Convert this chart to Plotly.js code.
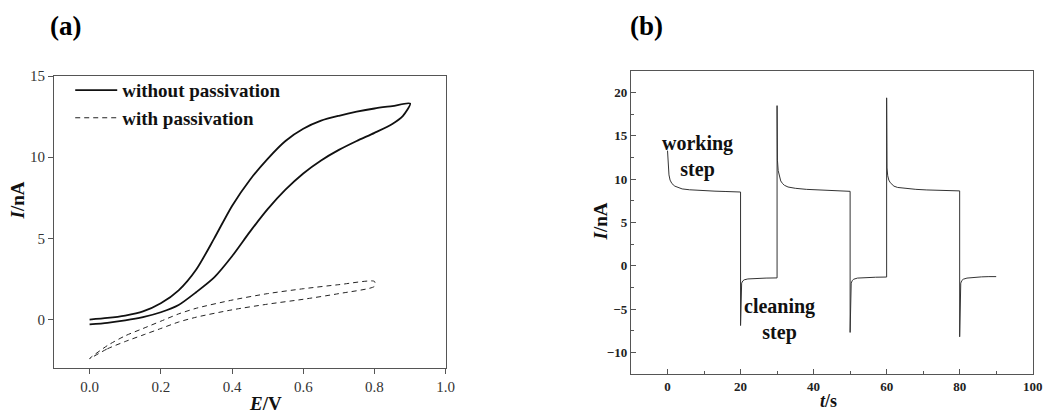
<!DOCTYPE html>
<html><head><meta charset="utf-8">
<script src="https://cdn.plot.ly/plotly-3.0.1.min.js"></script>
<style>html,body{margin:0;padding:0;background:#fff;}#chart{width:1048px;height:414px;}</style>
</head><body><div id="chart"></div>
<script>
// Panel (a): cyclic voltammograms (potential E / V, current I / nA)
var cvSolidE = [0,0.05,0.1,0.15,0.2,0.25,0.3,0.35,0.4,0.45,0.5,0.55,0.6,0.65,0.7,0.75,0.8,0.85,0.88,0.9,
                0.85,0.8,0.75,0.7,0.65,0.6,0.55,0.5,0.45,0.4,0.35,0.3,0.25,0.2,0.15,0.1,0.05,0];
var cvSolidI = [-0.3,-0.2,-0.05,0.15,0.45,0.9,1.7,2.6,3.9,5.4,6.8,8.0,9.0,9.8,10.45,11.0,11.5,12.05,12.55,13.3,
                13.15,13.0,12.8,12.55,12.25,11.75,11.0,9.9,8.6,7.0,5.0,3.1,1.8,1.0,0.5,0.25,0.1,0.0];
var cvDashE = [0,0.05,0.1,0.15,0.2,0.25,0.3,0.4,0.5,0.6,0.7,0.8,
               0.8,0.7,0.6,0.5,0.4,0.3,0.25,0.2,0.15,0.1,0.05,0];
var cvDashI = [-2.4,-1.8,-1.35,-0.95,-0.55,-0.15,0.15,0.6,0.95,1.25,1.6,2.05,
               2.35,2.15,1.9,1.6,1.2,0.7,0.35,-0.1,-0.55,-1.0,-1.6,-2.4];
var seriesNames = ['without passivation','with passivation'];

// Panel (b): chronoamperometry (time t / s, current I / nA)
var caTime = [0,0.2,0.4,0.7,1.2,2,3,4,6,8,10,13,16,19,20,
              20,20.1,20.3,20.6,21,22,24,27,30,
              30,30.1,30.3,30.6,31,31.5,32,33,35,38,41,44,47,50,
              50,50.1,50.3,50.6,51,52,54,57,60,
              60,60.1,60.3,60.6,61,61.5,62,63,65,68,71,74,77,80,
              80,80.1,80.3,80.6,81,82,84,86,88,90];
var caCurrent = [13.3,11.6,10.5,9.9,9.5,9.2,9.0,8.88,8.78,8.72,8.66,8.62,8.58,8.55,8.52,
                 -6.9,-2.6,-2.0,-1.75,-1.62,-1.52,-1.45,-1.42,-1.4,
                 18.5,12.2,11.0,10.3,9.8,9.5,9.3,9.1,8.95,8.83,8.76,8.7,8.65,8.6,
                 -7.7,-2.6,-2.0,-1.7,-1.55,-1.42,-1.35,-1.32,-1.3,
                 19.4,11.3,10.4,9.9,9.6,9.35,9.2,9.05,8.93,8.83,8.76,8.71,8.67,8.65,
                 -8.2,-2.6,-2.0,-1.7,-1.55,-1.42,-1.32,-1.28,-1.25,-1.25];

var serif = 'Liberation Serif, Times New Roman, serif';

var traces = [
  {x: cvSolidE, y: cvSolidI, type: 'scatter', mode: 'lines', name: seriesNames[0],
   line: {color: '#111', width: 1.8, shape: 'spline', smoothing: 0.7}, xaxis: 'x', yaxis: 'y'},
  {x: cvDashE, y: cvDashI, type: 'scatter', mode: 'lines', name: seriesNames[1],
   line: {color: '#222', width: 1, dash: '5px,4px', shape: 'spline', smoothing: 0.7}, xaxis: 'x', yaxis: 'y'},
  {x: caTime, y: caCurrent, type: 'scatter', mode: 'lines', showlegend: false,
   line: {color: '#333', width: 1}, xaxis: 'x2', yaxis: 'y2'}
];

var axA = {showline: true, mirror: true, linecolor: '#555', linewidth: 1, showgrid: false, zeroline: false,
           ticks: 'outside', ticklen: 5, tickcolor: '#555',
           tickfont: {family: serif, size: 15, color: '#333'}};
var axB = {showline: true, mirror: true, linecolor: '#555', linewidth: 1.2, showgrid: false, zeroline: false,
           ticks: 'inside', ticklen: 5, tickcolor: '#555',
           tickfont: {family: serif, size: 13, color: '#222', weight: 'bold'}};

var layout = {
  width: 1048, height: 414,
  margin: {l: 0, r: 0, t: 0, b: 0},
  paper_bgcolor: '#fff', plot_bgcolor: '#fff',
  showlegend: true,
  legend: {x: 0.067, y: 0.828, xanchor: 'left', yanchor: 'top', bgcolor: 'rgba(0,0,0,0)',
           font: {family: serif, size: 19, color: '#111', weight: 'bold'}, itemwidth: 42},
  xaxis: Object.assign({}, axA, {domain: [0.0515, 0.4253], range: [-0.1, 1.0], tick0: 0, dtick: 0.2,
                                 tickformat: '.1f', anchor: 'y'}),
  yaxis: Object.assign({}, axA, {domain: [0.1104, 0.8164], range: [-3, 15], tick0: 0, dtick: 5, anchor: 'x'}),
  xaxis2: Object.assign({}, axB, {domain: [0.6021, 0.9854], range: [-10, 100], tick0: 0, dtick: 20, anchor: 'y2',
                                  minor: {dtick: 10, ticks: 'inside', ticklen: 3, tickcolor: '#555'}}),
  yaxis2: Object.assign({}, axB, {domain: [0.0966, 0.8285], range: [-12.5, 22.5], tick0: 0, dtick: 5, anchor: 'x2',
                                  minor: {dtick: 2.5, ticks: 'inside', ticklen: 3, tickcolor: '#555'}}),
  annotations: [
    {text: '<b>(a)</b>', xref: 'paper', yref: 'paper', x: 65/1048, y: 1-26/414, xanchor: 'center', yanchor: 'middle',
     showarrow: false, font: {family: serif, size: 27, color: '#000'}},
    {text: '<b>(b)</b>', xref: 'paper', yref: 'paper', x: 646/1048, y: 1-26/414, xanchor: 'center', yanchor: 'middle',
     showarrow: false, font: {family: serif, size: 27, color: '#000'}},
    {text: '<b><i>E</i>/V</b>', xref: 'paper', yref: 'paper', x: 265/1048, y: 1-403/414, xanchor: 'center', yanchor: 'middle',
     showarrow: false, font: {family: serif, size: 19, color: '#111'}},
    {text: '<b><i>I</i>/nA</b>', xref: 'paper', yref: 'paper', x: 17.5/1048, y: 1-201/414, xanchor: 'center', yanchor: 'middle',
     textangle: -90, showarrow: false, font: {family: serif, size: 19, color: '#111'}},
    {text: '<b><i>I</i>/nA</b>', xref: 'paper', yref: 'paper', x: 599.5/1048, y: 1-222/414, xanchor: 'center', yanchor: 'middle',
     textangle: -90, showarrow: false, font: {family: serif, size: 19, color: '#111'}},
    {text: '<b><i>t</i>/s</b>', xref: 'paper', yref: 'paper', x: 828/1048, y: 1/414, xanchor: 'center', yanchor: 'bottom',
     showarrow: false, font: {family: serif, size: 18, color: '#111'}},
    {text: '<b>working<br>step</b>', xref: 'x2', yref: 'y2', x: 8.2, y: 12.65, xanchor: 'center', yanchor: 'middle',
     showarrow: false, font: {family: serif, size: 20, color: '#111'}},
    {text: '<b>cleaning<br>step</b>', xref: 'x2', yref: 'y2', x: 30.6, y: -6.2, xanchor: 'center', yanchor: 'middle',
     showarrow: false, font: {family: serif, size: 20, color: '#111'}}
  ]
};

Plotly.newPlot('chart', traces, layout, {staticPlot: true, displayModeBar: false});
</script></body></html>
